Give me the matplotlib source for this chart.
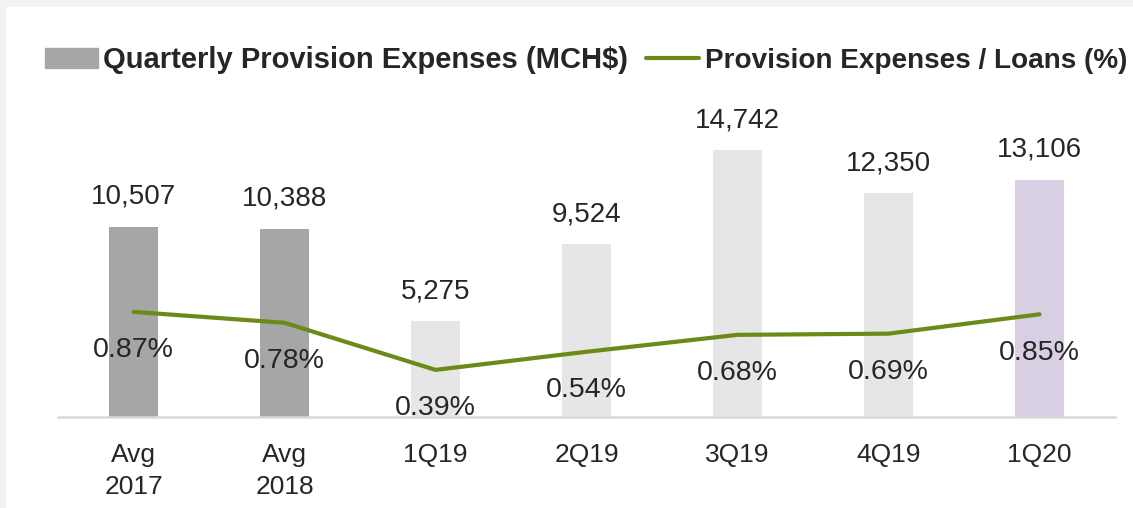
import matplotlib
matplotlib.use('Agg')
import matplotlib.pyplot as plt
import matplotlib.patches as mpatches
from matplotlib.lines import Line2D
import numpy as np

plt.rcParams['font.family'] = ['Liberation Sans', 'DejaVu Sans']

# data
categories = ['Avg\n2017', 'Avg\n2018', '1Q19', '2Q19', '3Q19', '4Q19', '1Q20']
provisions = [10507, 10388, 5275, 9524, 14742, 12350, 13106]
ratio = [0.87, 0.78, 0.39, 0.54, 0.68, 0.69, 0.85]
bar_colors = ['#a6a6a6', '#a6a6a6', '#e6e6e6', '#e6e6e6', '#e6e6e6', '#e6e6e6', '#d9cfe3']

W, H = 1133, 508
fig = plt.figure(figsize=(W / 100, H / 100), dpi=100, facecolor='#f2f2f2')
# white panel inside the grey frame
fig.patches.append(mpatches.Rectangle((6 / W, 0), 1 - 6 / W, 1 - 7 / H,
                                      transform=fig.transFigure, color='white', zorder=-5))

ax = fig.add_axes([58 / W, (H - 417) / H, (1115 - 58) / W, (417 - 100) / H])
ax.set_facecolor('none')
x = np.arange(len(categories))
ax.bar(x, provisions, width=0.32, color=bar_colors, zorder=2)
ax.set_xlim(-0.5, len(categories) - 0.5)
ax.set_ylim(0, 17500)
for xi, v in zip(x, provisions):
    ax.annotate(f'{v:,}', (xi, v), xytext=(0, 21.5), textcoords='offset points',
                ha='center', va='center', fontsize=20, color='#262626')

ax2 = ax.twinx()
ax2.plot(x, ratio, color='#6b8a17', lw=3, solid_capstyle='round', zorder=3)
ax2.set_ylim(0, 2.624)
for xi, r in zip(x, ratio):
    ax2.annotate(f'{r:.2f}%', (xi, r), xytext=(0, -27.5), textcoords='offset points',
                 ha='center', va='center', fontsize=20.5, color='#262626')

for a in (ax, ax2):
    for s in a.spines.values():
        s.set_visible(False)
    a.set_yticks([])
# baseline drawn on top of the labels, as in the original
ax2.axhline(0, color='#d9d9d9', lw=1.8, zorder=6, clip_on=False)
ax.set_xticks(x)
ax.set_xticklabels(categories, fontsize=19, color='#262626', linespacing=1.4)
ax.tick_params(axis='x', length=0, pad=19)

handles = [mpatches.Patch(color='#a6a6a6'),
           Line2D([], [], color='#6b8a17', lw=3, solid_capstyle='round')]
labels = ['Quarterly Provision Expenses (MCH$)', 'Provision Expenses / Loans (%)']
leg = fig.legend(handles, labels, loc='center left', bbox_to_anchor=(45 / W, 1 - 60 / H),
                 ncol=2, frameon=False, prop={'weight': 'bold', 'size': 21},
                 handlelength=1.8, handletextpad=0.2, columnspacing=0.62,
                 borderpad=0, borderaxespad=0, labelcolor='#262626')
leg.get_texts()[1].set_fontsize(20.1)

fig.savefig('out.png', dpi=100, facecolor=fig.get_facecolor())
